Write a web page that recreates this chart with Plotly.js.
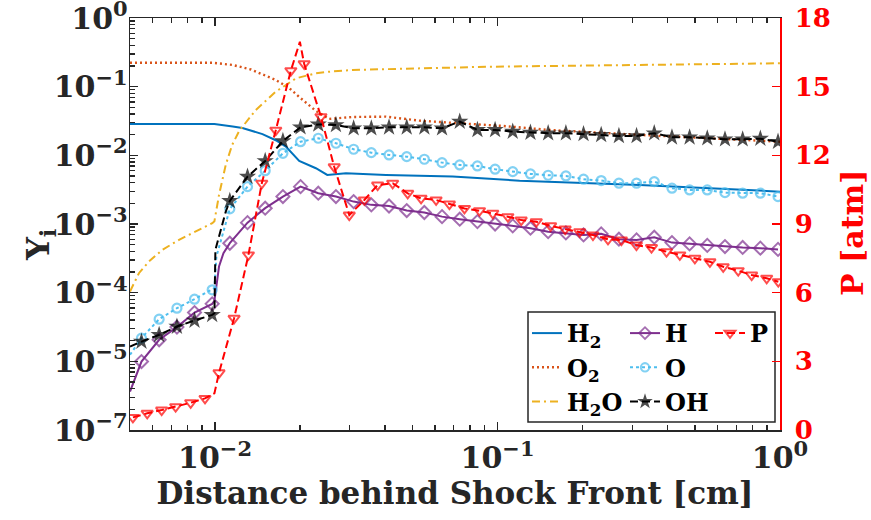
<!DOCTYPE html>
<html><head><meta charset="utf-8">
<script src="https://cdn.plot.ly/plotly-3.0.1.min.js"></script>
<style>html,body{margin:0;padding:0;background:#fff}#chart{width:871px;height:520px}</style>
</head><body><div id="chart"></div><script>
// ---- data ----
// shared marker positions for H, O, OH
const xMarkers = [0.00549,0.00634,0.00733,0.00846,0.00977,0.01128,0.01303,0.01505,0.01739,0.02008,0.02320,0.02679,0.03095,0.03575,0.04130,0.04771,0.05508,0.06362,0.07349,0.08489,0.09804,0.1132,0.1308,0.1511,0.1746,0.2016,0.2328,0.2690,0.3106,0.3588,0.4145,0.4786,0.5528,0.6386,0.7376,0.8520,0.9840];

const yH = [9.93e-6,2.06e-5,3.15e-5,5.13e-5,6.87e-5,5.25e-4,1.047e-3,1.70e-3,2.51e-3,3.50e-3,2.81e-3,2.51e-3,2.12e-3,1.90e-3,1.83e-3,1.57e-3,1.47e-3,1.28e-3,1.175e-3,1.084e-3,1.00e-3,9.38e-4,8.69e-4,7.74e-4,7.41e-4,6.93e-4,7.18e-4,6.01e-4,5.87e-4,6.43e-4,5.36e-4,5.13e-4,4.88e-4,4.69e-4,4.56e-4,4.45e-4,4.27e-4];
const xHLine = [0.005,0.00995,0.01033,0.01071];
const yHLine = [3.63e-6,7.6e-5,2.4e-4,3.76e-4];

const yO = [2.18e-5,4.11e-5,5.94e-5,8.04e-5,1.10e-4,1.66e-3,3.50e-3,5.98e-3,0.0107,0.0158,0.01774,0.0150,0.01227,0.01094,0.01014,0.00957,0.00877,0.00783,0.00724,0.00701,0.00628,0.00579,0.00536,0.00513,0.00501,0.00449,0.00429,0.00393,0.00393,0.00414,0.00332,0.00313,0.00313,0.00286,0.00281,0.00281,0.00251];
const xOLine = [0.005,0.00995,0.01011];
const yOLine = [1.245e-5,1.17e-4,3.35e-4];

const yOH = [1.94e-5,2.43e-5,3.21e-5,3.93e-5,4.75e-5,2.17e-3,4.90e-3,8.28e-3,0.0162,0.02564,0.0282,0.0277,0.0248,0.0248,0.0256,0.0256,0.0256,0.0248,0.0310,0.02344,0.02344,0.02213,0.02138,0.0210,0.0210,0.02046,0.01982,0.01914,0.01914,0.0210,0.01832,0.01832,0.01774,0.01714,0.01714,0.0175,0.0158];
const xOHLine = [0.005,0.00995,0.01003,0.01091];
const yOHLine = [1.64e-5,5.0e-5,4.2e-4,1.51e-3];

const xH2 = [0.005,0.00995,0.01155,0.0125,0.01472,0.0164,0.01781,0.01986,0.02275,0.02496,0.02907,0.0403,0.0694,0.1197,0.3189,1];
const yH2 = [0.0286,0.0286,0.0262,0.0250,0.0204,0.0166,0.0134,0.0083,0.00649,0.00519,0.00548,0.00519,0.0049,0.00428,0.00371,0.00296];

const xO2 = [0.005,0.00978,0.01155,0.01339,0.0164,0.01829,0.01986,0.02275,0.02536,0.03069,0.0403,0.05288,0.0733,0.1042,0.1529,0.346,1];
const yO2 = [0.2234,0.2234,0.207,0.178,0.125,0.0958,0.0708,0.0443,0.0339,0.0362,0.0366,0.0320,0.0293,0.0268,0.0234,0.0195,0.0158];

const xH2O = [0.005,0.005377,0.005834,0.006504,0.007455,0.008543,0.009781,0.00995,0.01033,0.01091,0.01149,0.01217,0.01394,0.01641,0.01932,0.02276,0.02536,0.03069,0.05288,0.0912,0.1529,1];
const yH2O = [1.04e-4,1.92e-4,2.84e-4,4.2e-4,5.87e-4,7.74e-4,1.03e-3,1.1e-3,2.65e-3,7.24e-3,0.0141,0.0226,0.0458,0.0845,0.132,0.157,0.165,0.175,0.185,0.195,0.2,0.219];

const xP = [0.00512,0.005753,0.006471,0.007254,0.0082,0.009215,0.01033,0.01168,0.01313,0.01464,0.01641,0.01855,0.02068,0.02371,0.02642,0.02987,0.03377,0.03763,0.04254,0.04809,0.05362,0.06062,0.06756,0.07638,0.08635,0.09623,0.1088,0.1213,0.1372,0.1542,0.1736,0.1953,0.2177,0.2461,0.2746,0.3103,0.3508,0.3965,0.4419,0.4996,0.5647,0.6294,0.7114,0.7937,0.8971,0.9862];
const yP = [0.55,0.73,0.87,1.02,1.19,1.38,2.50,4.88,7.65,10.78,13.1,15.7,16.0,13.69,11.5,9.39,10.05,10.7,10.78,10.34,10.12,10.05,9.87,9.68,9.58,9.47,9.32,9.17,9.1,8.92,8.78,8.66,8.52,8.33,8.30,8.08,7.97,7.79,7.65,7.50,7.35,7.13,6.96,6.77,6.63,6.48];
const xPLine = [0.00995,0.01997];
const yPLine = [1.6,16.96];

// tick label overrides (bottom decade of the left axis is labelled 10^-7 in the reference)
const yTickAlias = {'1':'10<sup>0</sup>', '10<sup>\u22126</sup>':'10<sup>\u22127</sup>'};
const xTickAlias = {'1':'10<sup>0</sup>'};
const pTickVals = [0,3,6,9,12,15,18];

// ---- helpers ----
function merge(xm, ym, xe, ye, s) {
  const pts = [];
  xm.forEach((x,i)=>pts.push([x, ym[i], s]));
  xe.forEach((x,i)=>pts.push([x, ye[i], 0]));
  pts.sort((a,b)=>a[0]-b[0]);
  return {x: pts.map(p=>p[0]), y: pts.map(p=>p[1]), s: pts.map(p=>p[2])};
}

const FONT = 'DejaVu Serif';
const AX = '#262626';
const LW = 2;

const mH = merge(xMarkers, yH, xHLine, yHLine, 10);
const mO = merge(xMarkers, yO, xOLine, yOLine, 9);
const mOH = merge(xMarkers, yOH, xOHLine, yOHLine, 13);
const mP = merge(xP, yP, xPLine, yPLine, 10);

const traces = [
  {x:xH2, y:yH2, name:'H<sub>2</sub>', mode:'lines', line:{color:'#0072BD', width:LW}, legend:'legend'},
  {x:xO2, y:yO2, name:'O<sub>2</sub>', mode:'lines', line:{color:'#D95319', width:2.4, dash:'2px,3px'}, legend:'legend'},
  {x:xH2O, y:yH2O, name:'H<sub>2</sub>O', mode:'lines', line:{color:'#EDB120', width:LW, dash:'8px,4px,2px,4px'}, legend:'legend'},
  {x:mH.x, y:mH.y, name:'H', mode:'lines+markers', line:{color:'#7E2F8E', width:LW},
    marker:{symbol:'diamond-open', size:mH.s, color:'#7E2F8E', line:{width:mH.s.map(s=>s?2:0)}}, legend:'legend2'},
  {x:mO.x, y:mO.y, name:'O', mode:'lines+markers', line:{color:'#4DBEEE', width:LW, dash:'3px,3px'},
    marker:{symbol:'circle-open', size:mO.s, color:'#4DBEEE', line:{width:mO.s.map(s=>s?2.2:0)}}, legend:'legend2'},
  {x:mOH.x, y:mOH.y, name:'OH', mode:'lines+markers', line:{color:'#000000', width:LW, dash:'8px,4px'},
    marker:{symbol:'star', size:mOH.s, color:'#000000', line:{width:0}}, legend:'legend2'},
  {x:mP.x, y:mP.y, name:'P', yaxis:'y2', mode:'lines+markers', line:{color:'#FF0000', width:LW, dash:'8px,4px'},
    marker:{symbol:'triangle-down-open', size:mP.s, color:'#FF0000', line:{width:mP.s.map(s=>s?2:0)}}, legend:'legend3'}
];

const logTickFont = {family:FONT, size:24, weight:'bold', color:AX};
const legFont = {family:FONT, size:24, weight:'bold', color:'#000'};
const legBase = {xanchor:'left', yanchor:'top', bgcolor:'rgba(0,0,0,0)', borderwidth:0, font:legFont, itemwidth:30, tracegroupgap:0};
const px2x = p => (p - 130) / 650;
const px2y = p => (430 - p) / 412;
const minorStyle = {ticks:'inside', ticklen:5, tickwidth:1.3, tickcolor:AX, showgrid:false};

const layout = {
  width:871, height:520,
  margin:{l:130, r:91, t:18, b:90, pad:0},
  paper_bgcolor:'#ffffff', plot_bgcolor:'#ffffff',
  showlegend:true,
  xaxis:{type:'log', range:[Math.log10(0.005), 0], tickmode:'linear', tick0:0, dtick:1, exponentformat:'power',
    labelalias:xTickAlias, ticklabeloverflow:'allow',
    ticks:'inside', ticklen:8, tickwidth:1.5, tickcolor:AX, showline:true, linecolor:AX, linewidth:1.5,
    mirror:'ticks', showgrid:false, zeroline:false, tickfont:logTickFont, ticklabelstandoff:2,
    minor:minorStyle,
    title:{text:'Distance behind Shock Front [cm]', font:{family:FONT, size:31, weight:'bold', color:AX}, standoff:4}},
  yaxis:{type:'log', range:[-6, 0], tickmode:'linear', tick0:0, dtick:1, exponentformat:'power',
    labelalias:yTickAlias, ticklabeloverflow:'allow',
    ticks:'inside', ticklen:8, tickwidth:1.5, tickcolor:AX, showline:true, linecolor:AX, linewidth:1.5,
    showgrid:false, zeroline:false, tickfont:logTickFont, ticklabelstandoff:-4,
    minor:minorStyle},
  yaxis2:{overlaying:'y', side:'right', range:[0,18], tickmode:'array', tickvals:pTickVals, ticklabeloverflow:'allow',
    ticks:'inside', ticklen:8, tickwidth:1.5, tickcolor:'#FF0000', showline:true, linecolor:'#FF0000', linewidth:1.5,
    showgrid:false, zeroline:false, tickfont:{family:FONT, size:26, weight:'bold', color:'#FF0000'}, ticklabelstandoff:8},
  annotations:[
    {text:'Y<sub>i</sub>', xref:'paper', yref:'paper', x:px2x(40), y:px2y(245), xanchor:'center', yanchor:'middle',
      textangle:-90, showarrow:false, font:{family:FONT, size:32, weight:'bold', color:AX}},
    {text:'P [atm]', xref:'paper', yref:'paper', x:px2x(852), y:px2y(233), xanchor:'center', yanchor:'middle',
      textangle:-90, showarrow:false, font:{family:FONT, size:30, weight:'bold', color:'#FF0000'}}
  ],
  legend:Object.assign({}, legBase, {x:px2x(527), y:px2y(311)}),
  legend2:Object.assign({}, legBase, {x:px2x(625), y:px2y(311)}),
  legend3:Object.assign({}, legBase, {x:px2x(710), y:px2y(311)}),
  shapes:[{type:'rect', xref:'paper', yref:'paper', x0:px2x(528), x1:px2x(775), y0:px2y(422), y1:px2y(312),
    line:{color:AX, width:1.5}, fillcolor:'#ffffff', layer:'below'}]
};

Plotly.newPlot('chart', traces, layout, {displayModeBar:false, staticPlot:true});
</script></body></html>
